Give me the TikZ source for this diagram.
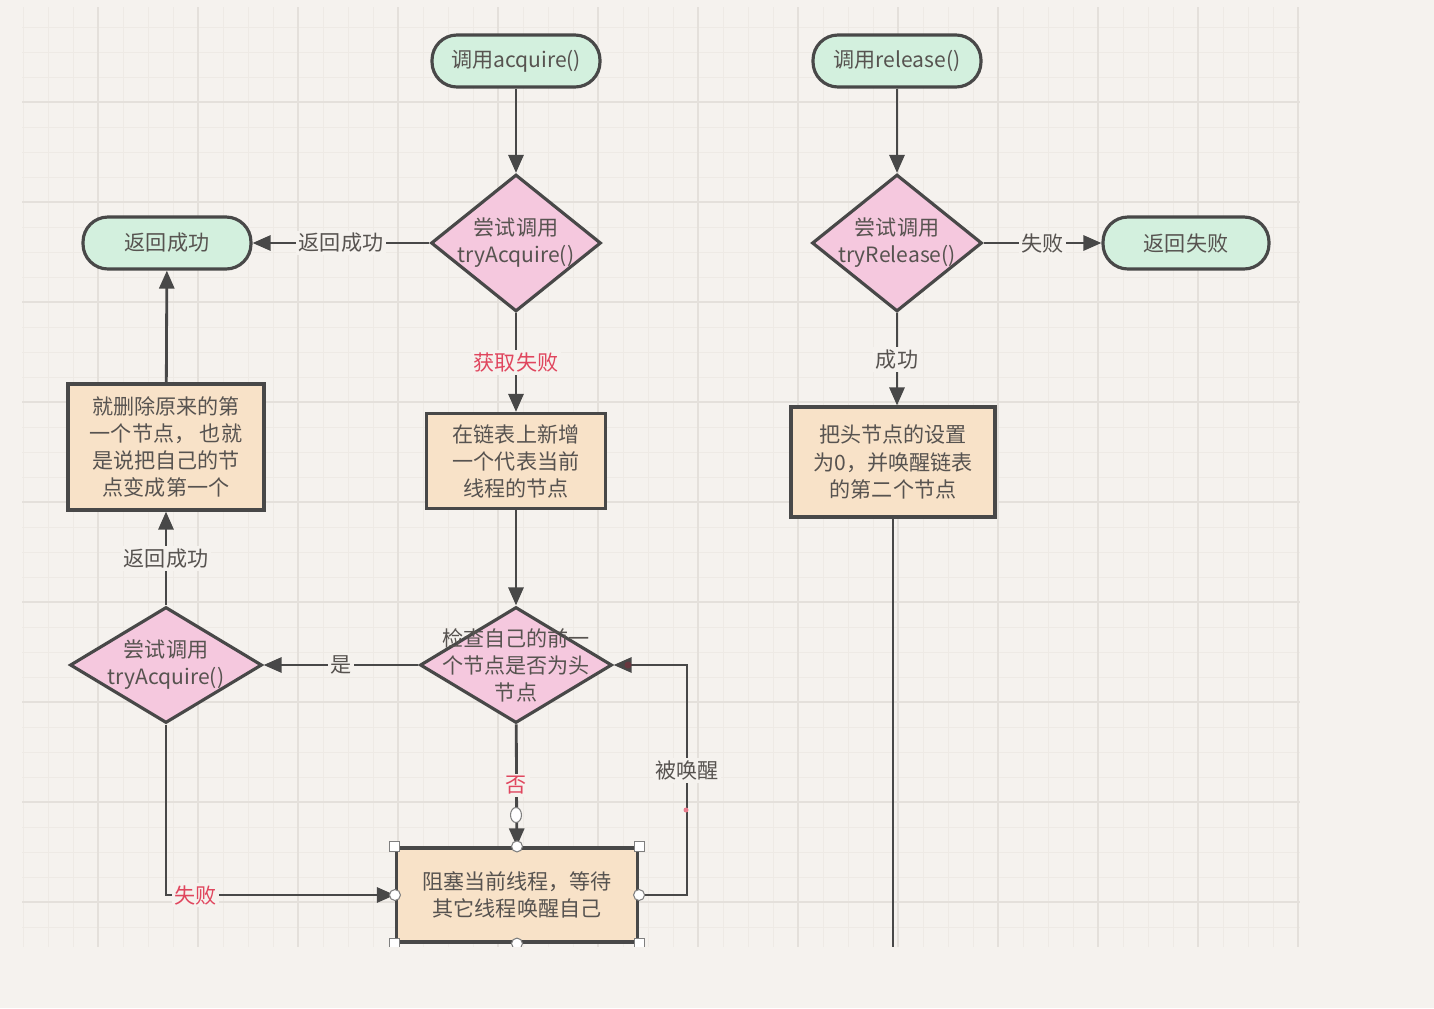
\documentclass[tikz,border=0pt]{standalone}
\usepackage{fontspec}
\setmainfont{Noto Sans CJK SC}
\usepackage{xcolor}
\usepackage{tikz}
\usetikzlibrary{arrows.meta,shapes.geometric,positioning,calc}
\definecolor{pagebg}{HTML}{F5F2EE}
\definecolor{gridminor}{HTML}{EEEAE5}
\definecolor{gridmajor}{HTML}{E4E0DB}
\definecolor{mintfill}{HTML}{D3F0DE}
\definecolor{pinkfill}{HTML}{F5C8DE}
\definecolor{peachfill}{HTML}{F8E2C8}
\definecolor{edgegray}{HTML}{484848}
\definecolor{txtgray}{HTML}{575350}
\definecolor{labelred}{HTML}{E0465E}

\begin{document}
\begin{tikzpicture}[x=0.02cm,y=-0.02cm,
  font=\fontsize{12pt}{15.4pt}\selectfont, text=txtgray,
  terminal/.style={draw=edgegray,line width=1.8pt,fill=mintfill,rounded corners=0.5cm,minimum width=3.36cm,minimum height=1.04cm,inner sep=0pt},
  decision/.style={diamond,draw=edgegray,line width=1.8pt,fill=pinkfill,inner sep=0pt,minimum width=3.4cm,minimum height=2.74cm},
  flatdecision/.style={decision,minimum width=3.84cm,minimum height=2.32cm},
  process/.style={draw=edgegray,line width=1.8pt,fill=peachfill,align=center,inner sep=0pt},
  dtext/.style={align=center,inner sep=0pt},
  flow/.style={draw=edgegray,line width=1.6pt,-{Triangle[length=0.36cm,width=0.3cm]}},
  elabel/.style={fill=pagebg,inner sep=1.5pt,text=txtgray},
  redlabel/.style={elabel,text=labelred},
  handle/.style={draw=edgegray!70,fill=white,line width=0.6pt,inner sep=0pt,minimum size=0.2cm}]
  \fill[pagebg] (0,0) rectangle (1434,1008);
  \useasboundingbox (0,0) rectangle (1434,1008);
  % grid paper
  \foreach \gx in {23,48,...,1298}{\draw[gridminor,line width=0.5pt] (\gx,7) -- (\gx,947);}
  \foreach \gy in {27,52,...,927}{\draw[gridminor,line width=0.5pt] (22,\gy) -- (1300,\gy);}
  \foreach \gx in {98,198,...,1298}{\draw[gridmajor,line width=0.8pt] (\gx,7) -- (\gx,947);}
  \foreach \gy in {102,202,...,902}{\draw[gridmajor,line width=0.8pt] (22,\gy) -- (1300,\gy);}

  \begin{scope}
  \clip (0,0) rectangle (1434,946);
  % acquire side
  \node[terminal] (acq) at (516,61) {调用acquire()};
  \node[decision] (tryacq) at (516,243) {};
  \node[dtext] (tryacqtxt) at (tryacq) {尝试调用\\tryAcquire()};
  \node[terminal] (ok) at (167,243) {返回成功};
  \node[process,minimum width=3.92cm,minimum height=2.52cm] (dropfirst) at (166,447) {就删除原来的第\\一个节点， 也就\\是说把自己的节\\点变成第一个};
  \node[process,minimum width=3.58cm,minimum height=1.9cm] (addnode) at (516,461) {在链表上新增\\一个代表当前\\线程的节点};
  \node[flatdecision] (retry) at (166,665) {};
  \node[dtext] (retrytxt) at (retry) {尝试调用\\tryAcquire()};
  \node[flatdecision] (checkprev) at (516,665) {};
  \node[dtext] (checkprevtxt) at (checkprev) {检查自己的前一\\个节点是否为头\\节点};
  \node[process,minimum width=4.82cm,minimum height=1.88cm] (park) at (517,895) {阻塞当前线程，等待\\其它线程唤醒自己};

  % release side
  \node[terminal] (rel) at (897,61) {调用release()};
  \node[decision] (tryrel) at (897,243) {};
  \node[dtext] (tryreltxt) at (tryrel) {尝试调用\\tryRelease()};
  \node[terminal,minimum width=3.32cm] (fail) at (1186,243) {返回失败};
  \node[process,minimum width=4.08cm,minimum height=2.2cm] (sethead) at (893,462) {把头节点的设置\\为0，并唤醒链表\\的第二个节点};
  \coordinate (relend) at (893,990);

  % connectors
  \draw[flow] (acq) -- (tryacq);
  \draw[flow] (tryacq) -- node[elabel]{返回成功} (ok);
  \draw[flow] (tryacq) -- node[redlabel]{获取失败} (addnode);
  \draw[flow] (addnode) -- (checkprev);
  \draw[flow] (checkprev) -- node[elabel]{是} (retry);
  \draw[flow] (retry) -- node[elabel]{返回成功} (dropfirst);
  \draw[flow] (dropfirst) -- (ok);
  \draw[flow] (retry) |- node[redlabel,pos=0.565]{失败} (park);
  \draw[flow] (checkprev) -- node[redlabel,pos=0.5]{否} (park);
  \draw[flow] (park.east) -- ++(48,0) |- node[elabel,pos=0.27]{被唤醒} (checkprev);
  \draw[flow] (rel) -- (tryrel);
  \draw[flow] (tryrel) -- node[elabel]{失败} (fail);
  \draw[flow] (tryrel) -- node[elabel]{成功} (tryrel.south |- sethead.north);
  \draw[draw=edgegray,line width=1.6pt] (sethead) -- (relend);

  % selection marks
  \node[handle,ellipse,minimum width=0.22cm,minimum height=0.3cm] (notail) at (516,815) {};
  \fill[labelred!70] (686,810) circle (0.05cm);
  \fill[labelred!60!black,opacity=0.5] (628,665) circle (0.07cm);
  \foreach \corner/\hn in {north west/hnw,north east/hne,south west/hsw,south east/hse}{\node[handle] (\hn) at (park.\corner) {};}
  \foreach \side/\hn in {north/hn,south/hs,west/hw,east/he}{\node[handle,circle,minimum size=0.22cm] (\hn) at (park.\side) {};}
  \end{scope}
\end{tikzpicture}
\end{document}
